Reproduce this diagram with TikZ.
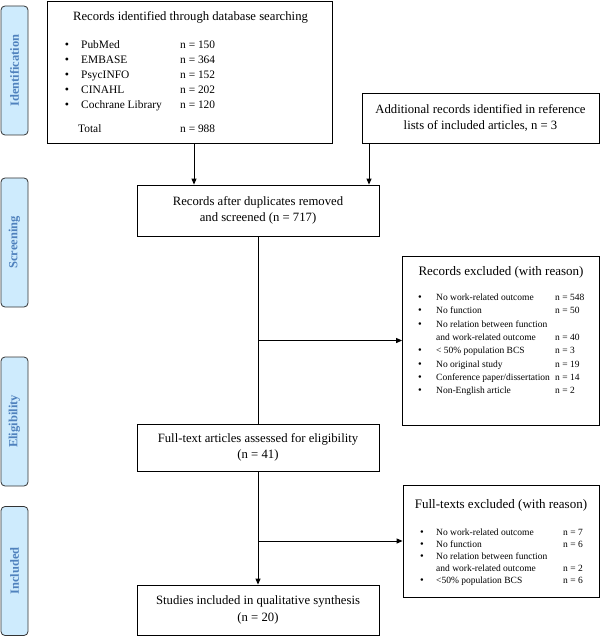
\documentclass[tikz,border=0pt]{standalone}
\usepackage{fontspec}
\setmainfont{Liberation Serif}
\usetikzlibrary{arrows.meta}

\definecolor{stagefill}{RGB}{206,235,253}
\definecolor{stagetext}{RGB}{79,129,189}

\tikzset{
  box/.style={draw, line width=0.8pt, minimum width=242, align=center, inner sep=0pt,
              font=\fontsize{12.7}{16.5}\selectfont},
  stage/.style={draw=black!80, line width=0.8pt, fill=stagefill, rounded corners=4pt, rotate=90,
                minimum width=129, minimum height=27, inner sep=0pt, text=stagetext,
                font=\bfseries\fontsize{12.5}{15}\selectfont},
  arr/.style={line width=1pt, -{Triangle[length=6pt,width=5pt]}},
  head/.style={anchor=base, inner sep=0pt, font=\fontsize{12.7}{15}\selectfont},
  item/.style={anchor=base west, inner sep=0pt, font=\fontsize{11.4}{13}\selectfont},
  reason/.style={anchor=base west, inner sep=0pt, font=\fontsize{9.5}{11}\selectfont},
  dot/.style={anchor=base, inner sep=0pt, font=\fontsize{12}{13}\selectfont},
}

\begin{document}
\begin{tikzpicture}[x=1pt, y=-1pt]
\useasboundingbox (0,0) rectangle (601,636);

% stages
\node[stage] (ident)  at (14.5,70.5)  {Identification};
\node[stage] (screen) at (14.5,242.5) {Screening};
\node[stage] (elig)   at (14.5,421.5) {Eligibility};
\node[stage] (incl)   at (14.5,571)   {Included};

% identification
\node[box, minimum width=285, minimum height=142] (search) at (189.5,72) {};
\node[head] (searchtitle) at (190.5,21) {Records identified through database searching};
\foreach \db/\n [count=\i from 0] in {PubMed/150, EMBASE/364, PsycINFO/152, CINAHL/202, Cochrane Library/120} {
  \node[dot]  (dbdot\i) at (67,49+15*\i)  {\textbullet};
  \node[item] (db\i)    at (81,49+15*\i)  {\db};
  \node[item] (dbn\i)   at (180,49+15*\i) {n = \n};
}
\node[item] (total)  at (78,133)  {Total};
\node[item] (totaln) at (180,133) {n = 988};

\node[box, minimum width=237, minimum height=50] (extra) at (480.5,118)
  {Additional records identified in reference\\lists of included articles, n = 3};

% screening
\node[box, minimum height=51] (dedup) at (258,210.5)
  {Records after duplicates removed\\and screened (n = 717)};

\node[box, minimum width=197, minimum height=169] (excl1) at (501,340.5) {};
\node[head, font=\fontsize{13}{15}\selectfont] (excl1title) at (501,275) {Records excluded (with reason)};
\foreach \txt [count=\i from 0] in {No work-related outcome, No function, No relation between function,
    and work-related outcome, < 50\% population BCS, No original study,
    Conference paper/dissertation, Non-English article}
  \node[reason] (r\i) at (436,300.5+13.3*\i) {\txt};
\foreach \i in {0,1,2,4,5,6,7}
  \node[dot, font=\fontsize{10.5}{11}\selectfont] (rdot\i) at (420,300.5+13.3*\i) {\textbullet};
\foreach \i/\n in {0/548, 1/50, 3/40, 4/3, 5/19, 6/14, 7/2}
  \node[reason] (rn\i) at (555,300.5+13.3*\i) {n = \n};

% eligibility
\node[box, minimum height=47] (fulltext) at (258,447.5)
  {Full-text articles assessed for eligibility\\(n = 41)};

\node[box, minimum width=196, minimum height=112] (excl2) at (501,541) {};
\node[head, font=\fontsize{13}{15}\selectfont] (excl2title) at (501,508) {Full-texts excluded (with reason)};
\foreach \txt [count=\i from 0] in {No work-related outcome, No function, No relation between function,
    and work-related outcome, <50\% population BCS}
  \node[reason] (f\i) at (436,535.5+12*\i) {\txt};
\foreach \i in {0,1,2,4}
  \node[dot, font=\fontsize{10.5}{11}\selectfont] (fdot\i) at (422,535.5+12*\i) {\textbullet};
\foreach \i/\n in {0/7, 1/6, 3/2, 4/6}
  \node[reason] (fn\i) at (563,535.5+12*\i) {n = \n};

% included
\node[box, minimum height=50] (studies) at (258,610)
  {Studies included in qualitative synthesis\\(n = 20)};

% connectors
\coordinate (left) at (194,0);
\coordinate (right) at (369,0);
\draw[arr] (search.south -| left) -- (dedup.north -| left);
\draw[arr] (extra.south -| right) -- (dedup.north -| right);
\draw[line width=1pt] (dedup) -- (fulltext);
\draw[arr] (dedup.south |- excl1.west) -- (excl1.west);
\draw[arr] (fulltext) -- (studies);
\draw[arr] (fulltext.south |- excl2.west) -- (excl2.west);
\end{tikzpicture}
\end{document}
